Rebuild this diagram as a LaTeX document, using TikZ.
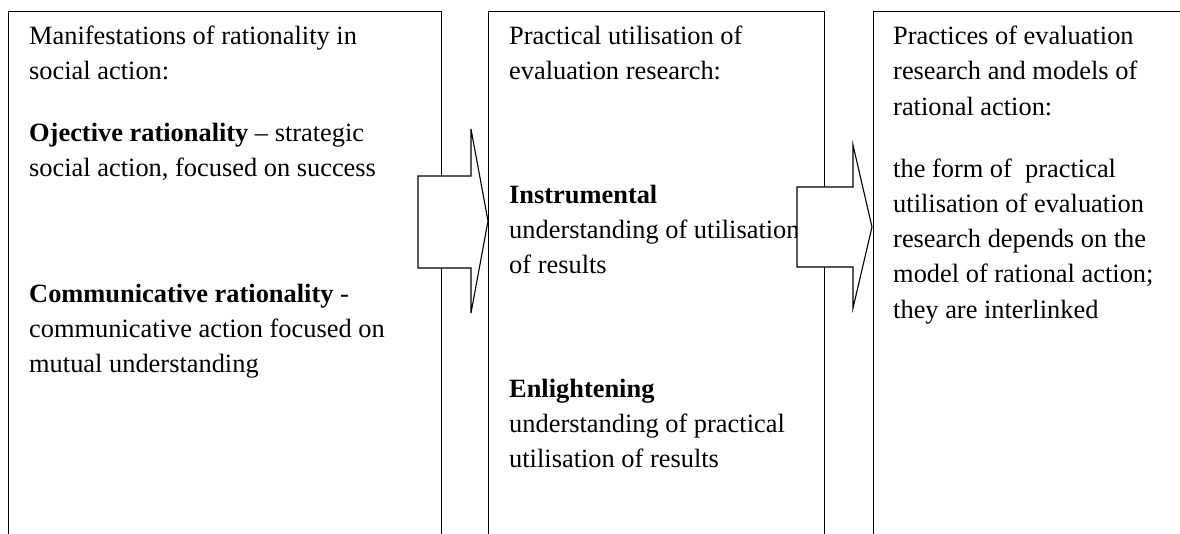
\documentclass[tikz,border=0pt]{standalone}
\usepackage{fontspec}
\setmainfont{Liberation Serif}
\begin{document}
\begin{tikzpicture}[x=1pt,y=-1pt,
  boxline/.style={draw=black,line width=1.1pt},
  para/.style={anchor=base west,inner sep=0pt,align=left,
    font=\fontsize{26.4}{35.3}\selectfont},
  blockarrow/.style={draw=black,fill=white,line width=1.1pt,line join=miter}]
\useasboundingbox (0,0) rectangle (1180,533);
\clip (0,0) rectangle (1180,533);
% boxes
\node[boxline,anchor=north west,inner sep=0pt,minimum width=433pt,minimum height=560pt] (box1) at (8,11) {};
\node[boxline,anchor=north west,inner sep=0pt,minimum width=336pt,minimum height=560pt] (box2) at (488,11) {};
\node[boxline,anchor=north west,inner sep=0pt,minimum width=340pt,minimum height=560pt] (box3) at (872.5,11) {};
% texts box 1 (anchored at the baseline of the last line)
\node[para] (a1) at (29,79.8) {Manifestations of rationality in\\social action:};
\node[para] (a2) at (29,176.3) {\textbf{Ojective rationality} – strategic\\social action, focused on success};
\node[para] (a3) at (29,372.6) {\textbf{Communicative rationality} -\\communicative action focused on\\mutual understanding};
% texts box 2
\node[para] (b1) at (509,79.8) {Practical utilisation of\\evaluation research:};
\node[para] (b2) at (509,273.6) {\textbf{Instrumental}\\understanding of utilisation\\of results};
\node[para] (b3) at (509,467.6) {\textbf{Enlightening}\\understanding of practical\\utilisation of results};
% texts box 3
\node[para] (c1) at (893,115.1) {Practices of evaluation\\research and models of\\rational action:};
\node[para] (c2) at (893,318.2) {the form of\ \ practical\\utilisation of evaluation\\research depends on the\\model of rational action;\\they are interlinked};
% block arrows
\draw[blockarrow] (418,176) -- (471,176) -- (471,129) -- (488,221) -- (471,313) -- (471,268) -- (418,268) -- cycle;
\draw[blockarrow] (797,187) -- (853,187) -- (853,145) -- (872,227) -- (853,308) -- (853,267) -- (797,267) -- cycle;
\end{tikzpicture}
\end{document}
